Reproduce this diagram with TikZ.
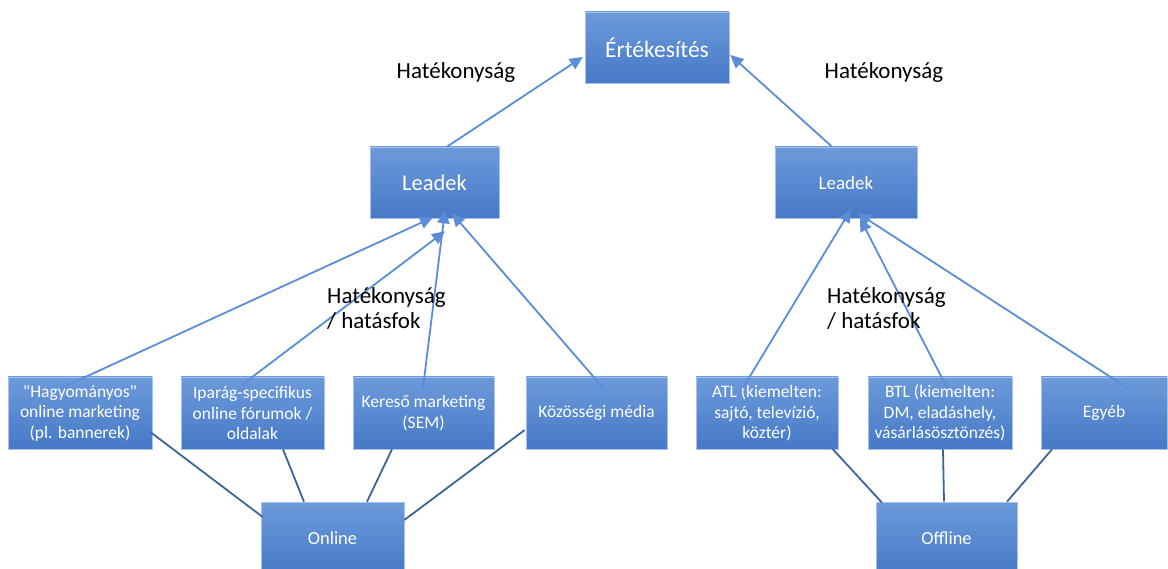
\documentclass[tikz,border=0pt]{standalone}
\usepackage{fontspec}
\setmainfont{Carlito}
\newfontfamily\carlplain{Carlito}
\usetikzlibrary{calc,arrows.meta}
\definecolor{boxtop}{RGB}{108,154,218}
\definecolor{boxbot}{RGB}{70,121,199}
\definecolor{uplinec}{RGB}{91,141,214}
\definecolor{downlinec}{RGB}{62,100,156}
\tikzset{
  bbox/.style={rectangle, inner sep=0pt, top color=boxtop, bottom color=boxbot,
    draw=boxtop!60!white, line width=0.6pt, text=white, align=center,
    minimum height=71pt},
  smalltxt/.style={font=\fontsize{17.5}{20.5}\selectfont},
  uparrow/.style={draw=uplinec, line width=1.8pt, -{Triangle[length=13pt,width=12pt]}},
  downline/.style={draw=downlinec, line width=1.8pt},
  lbl/.style={font=\fontsize{23}{25}\selectfont, text=black, inner sep=0pt}
}
\begin{document}
\begin{tikzpicture}[x=1pt,y=-1pt]
\clip (0,0) rectangle (1168,569);
\fill[white] (0,0) rectangle (1168,569);

% nodes
\node[bbox, minimum width=144pt, font=\fontsize{23.5}{26}\selectfont] (top) at (657,47.5) {Értékesítés};
\node[bbox, minimum width=129pt, font=\fontsize{22.5}{25}\selectfont] (leadL) at (434.5,182.5) {Leadek};
\node[bbox, minimum width=142pt, font=\fontsize{19}{22}\selectfont] (leadR) at (846,182.5) {Leadek};

\node[bbox, smalltxt, minimum width=144pt, minimum height=72pt] (b1) at (80,413) {{\carlplain"Hagyományos"}\\online marketing\\(pl. bannerek)};
\node[bbox, smalltxt, minimum width=143pt, minimum height=72pt] (b2) at (252.5,413) {Iparág-specifikus\\online fórumok /\\oldalak};
\node[bbox, smalltxt, minimum width=141pt, minimum height=72pt] (b3) at (423.5,413) {Kereső marketing\\(SEM)};
\node[bbox, smalltxt, minimum width=141pt, minimum height=72pt] (b4) at (596.5,413) {Közösségi média};
\node[bbox, smalltxt, minimum width=142pt, minimum height=72pt] (b5) at (767,413) {ATL (kiemelten:\\sajtó, televízió,\\köztér)};
\node[bbox, smalltxt, minimum width=144pt, minimum height=72pt] (b6) at (940,413) {BTL (kiemelten:\\DM, eladáshely,\\vásárlásösztönzés)};
\node[bbox, smalltxt, minimum width=126pt, minimum height=72pt] (b7) at (1104,413) {Egyéb};

\node[bbox, minimum width=143pt, minimum height=72pt, font=\fontsize{18.5}{21}\selectfont] (online) at (332.5,538) {Online};
\node[bbox, minimum width=141pt, minimum height=72pt, font=\fontsize{18.5}{21}\selectfont] (offline) at (946.5,538) {Offline};

% arrows to top
\draw[uparrow] ($(leadL.north)+(12.5,0)$) -- ($(top.west)+(-2,9.5)$);
\draw[uparrow] ($(leadR.north)+(-14,0)$) -- ($(top.east)+(1,7.5)$);

% arrows to Leadek (left)
\draw[uparrow] ($(b1.north)+(-18,11)$) -- ($(leadL.south)+(-1.5,-1)$);
\draw[uparrow] ($(b2.north)+(-10.5,8)$) -- ($(leadL.south)+(10.5,13)$);
\draw[uparrow] ($(b3.north)+(-0.5,11)$) -- ($(leadL.south)+(10.5,-8)$);
\draw[uparrow] ($(b4.north)+(6.5,11)$) -- ($(leadL.south)+(17.5,-5)$);

% arrows to Leadek (right)
\draw[uparrow] ($(b5.north)+(-24,11)$) -- ($(leadR.south)+(5,-9)$);
\draw[uparrow] ($(b6.north)+(7,11)$) -- ($(leadR.south)+(14,0)$);
\draw[uparrow] ($(b7.north)+(23,11)$) -- ($(leadR.south)+(12,-5)$);

% lines to Online
\draw[downline] ($(b1.east)+(-2,19)$) -- ($(online.west)+(2,-21)$);
\draw[downline] ($(b2.south)+(30.5,0)$) -- ($(online.north)+(-28.5,0)$);
\draw[downline] ($(b3.south)+(-31.5,0)$) -- ($(online.north)+(34.5,0)$);
\draw[downline] ($(b4.west)+(-1,17)$) -- ($(online.east)+(0,-18)$);

% lines to Offline
\draw[downline] ($(b5.south)+(65,-1)$) -- ($(offline.north)+(-64.5,1)$);
\draw[downline] ($(b6.south)+(3,0)$) -- ($(offline.north)+(-2.5,0)$);
\draw[downline] ($(b7.south)+(-52,0)$) -- ($(offline.north)+(60.5,0)$);

% labels
\node[lbl] (hl) at (456,72) {Hatékonyság};
\node[lbl] (hr) at (884,72) {Hatékonyság};
\node[lbl, anchor=north west, align=left] (hhl) at (327,287) {Hatékonyság\\/ hatásfok};
\node[lbl, anchor=north west, align=left] (hhr) at (827,287) {Hatékonyság\\/ hatásfok};
\end{tikzpicture}
\end{document}
